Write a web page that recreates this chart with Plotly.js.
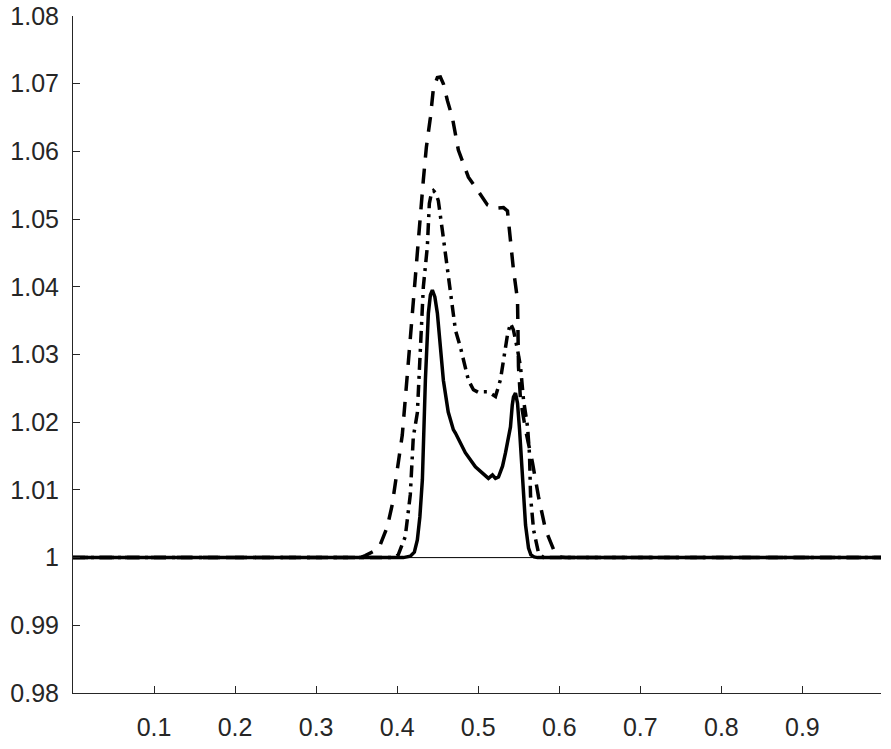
<!DOCTYPE html>
<html>
<head>
<meta charset="utf-8">
<script src="https://cdn.plot.ly/plotly-3.0.1.min.js"></script>
<style>html,body{margin:0;padding:0;background:#fff}#chart{width:891px;height:749px}</style>
</head>
<body>
<div id="chart"></div>
<script>
// Reference line y = 1
const xRef = [0, 1];
const yRef = [1, 1];

// Dashed curve (highest peak)
const xDash = [0, 0.3544, 0.3606, 0.3705, 0.3791, 0.3877, 0.3939, 0.4001, 0.4063, 0.4125, 0.4162, 0.4187, 0.4224, 0.4249, 0.4286, 0.4323, 0.4360, 0.4410, 0.4447, 0.4475, 0.4496, 0.4533, 0.4570, 0.4620, 0.4681, 0.4755, 0.4817, 0.4879, 0.4990, 0.5114, 0.5213, 0.5312, 0.5361, 0.5398, 0.5435, 0.5485, 0.5491, 0.5497, 0.5522, 0.5584, 0.5670, 0.5744, 0.5831, 0.5930, 0.5992, 0.6078, 1];
const yDash = [1, 1.0000, 1.0003, 1.0009, 1.0019, 1.0045, 1.0078, 1.0130, 1.0181, 1.0270, 1.0326, 1.0361, 1.0414, 1.0459, 1.0509, 1.0558, 1.0606, 1.0650, 1.0693, 1.0704, 1.0709, 1.0710, 1.0700, 1.0675, 1.0650, 1.0602, 1.0580, 1.0562, 1.0543, 1.0521, 1.0516, 1.0517, 1.0512, 1.0469, 1.0425, 1.0381, 1.0332, 1.0282, 1.0233, 1.0189, 1.0140, 1.0090, 1.0041, 1.0012, 1.0001, 1.0000, 1];

// Dash-dot curve
const xDashDot = [0, 0.3951, 0.4013, 0.4100, 0.4162, 0.4199, 0.4249, 0.4286, 0.4323, 0.4372, 0.4397, 0.4422, 0.4447, 0.4478, 0.4508, 0.4558, 0.4620, 0.4681, 0.4719, 0.4780, 0.4879, 0.4941, 0.5003, 0.5065, 0.5126, 0.5176, 0.5213, 0.5275, 0.5312, 0.5361, 0.5398, 0.5435, 0.5485, 0.5522, 0.5559, 0.5609, 0.5633, 0.5646, 0.5683, 0.5744, 0.5806, 1];
const yDashDot = [1, 1.0000, 1.0004, 1.0031, 1.0093, 1.0178, 1.0214, 1.0296, 1.0400, 1.0459, 1.0523, 1.0538, 1.0542, 1.0538, 1.0527, 1.0483, 1.0429, 1.0376, 1.0336, 1.0311, 1.0262, 1.0248, 1.0244, 1.0245, 1.0245, 1.0241, 1.0238, 1.0263, 1.0292, 1.0329, 1.0346, 1.0336, 1.0307, 1.0282, 1.0233, 1.0193, 1.0152, 1.0090, 1.0041, 1.0007, 1.0000, 1];

// Solid curve
const xSolid = [0, 0.3977, 0.4075, 0.4162, 0.4212, 0.4249, 0.4280, 0.4311, 0.4348, 0.4385, 0.4410, 0.4434, 0.4465, 0.4496, 0.4533, 0.4570, 0.4630, 0.4693, 0.4719, 0.4841, 0.4965, 0.5089, 0.5126, 0.5176, 0.5213, 0.5250, 0.5300, 0.5337, 0.5398, 0.5420, 0.5435, 0.5460, 0.5485, 0.5510, 0.5547, 0.5584, 0.5621, 0.5650, 0.5690, 0.5732, 1];
const ySolid = [1, 1.0000, 1.0000, 1.0002, 1.0008, 1.0026, 1.0060, 1.0115, 1.0262, 1.0361, 1.0388, 1.0395, 1.0385, 1.0361, 1.0305, 1.0262, 1.0215, 1.0189, 1.0184, 1.0155, 1.0134, 1.0122, 1.0117, 1.0122, 1.0117, 1.0119, 1.0135, 1.0155, 1.0193, 1.0225, 1.0237, 1.0243, 1.0228, 1.0189, 1.0115, 1.0048, 1.0014, 1.0004, 1.0001, 1.0000, 1];

// Tick labels
const xTicks = [0.1, 0.2, 0.3, 0.4, 0.5, 0.6, 0.7, 0.8, 0.9];
const xTickText = ['0.1', '0.2', '0.3', '0.4', '0.5', '0.6', '0.7', '0.8', '0.9'];
const yTicks = [0.98, 0.99, 1.00, 1.01, 1.02, 1.03, 1.04, 1.05, 1.06, 1.07, 1.08];
const yTickText = ['0.98', '0.99', '1', '1.01', '1.02', '1.03', '1.04', '1.05', '1.06', '1.07', '1.08'];

const traces = [
  {x: xRef, y: yRef, mode: 'lines', line: {color: '#000', width: 1}, hoverinfo: 'skip'},
  {x: xDash, y: yDash, mode: 'lines', line: {color: '#000', width: 3.5, dash: '15px,11px'}},
  {x: xDashDot, y: yDashDot, mode: 'lines', line: {color: '#000', width: 3.5, dash: '12px,6px,3px,6px'}},
  {x: xSolid, y: ySolid, mode: 'lines', line: {color: '#000', width: 3.5}}
];

const axisCommon = {
  showgrid: false, zeroline: false, showline: true, linecolor: '#262626', linewidth: 1,
  ticks: 'inside', ticklen: 7, tickcolor: '#262626', tickwidth: 1,
  tickfont: {family: 'Liberation Sans, Arial, sans-serif', size: 25, color: '#262626'},
  mirror: false, fixedrange: true
};

const layout = {
  width: 891, height: 749,
  margin: {l: 73, r: 10, t: 16, b: 56, pad: 0},
  paper_bgcolor: '#fff', plot_bgcolor: '#fff',
  showlegend: false,
  xaxis: Object.assign({}, axisCommon, {range: [0, 0.997], tickmode: 'array', tickvals: xTicks, ticktext: xTickText, ticklabelstandoff: 12}),
  yaxis: Object.assign({}, axisCommon, {range: [0.98, 1.08], tickmode: 'array', tickvals: yTicks, ticktext: yTickText, ticklabelstandoff: 8})
};

Plotly.newPlot('chart', traces, layout, {staticPlot: true, displayModeBar: false});
</script>
</body>
</html>
